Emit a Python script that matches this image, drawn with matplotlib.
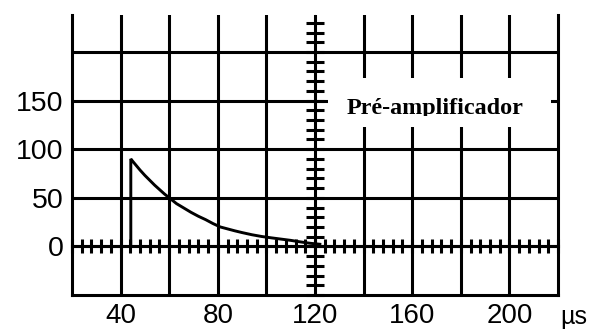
import matplotlib
matplotlib.use("Agg")
import matplotlib.pyplot as plt
from matplotlib.patches import Rectangle
from matplotlib.ticker import MultipleLocator

# pulso do pré-amplificador
time_us = [44.2, 44.2, 45, 46, 47, 48, 50, 52, 54, 56, 58, 60, 63, 66, 69,
           72, 75, 78, 81, 84, 87, 90, 94, 98, 102, 106, 110, 114, 118, 122]
amplitude = [0, 90, 87.5, 84.5, 81.5, 78.5, 73, 68, 63, 58.5, 54, 50, 44,
             39.5, 35, 31, 27.5, 23.5, 20, 18, 16, 14.2, 12, 10.2, 8.8, 7.5,
             6.2, 4.6, 3.2, 2.2]

x_grid = list(range(40, 201, 20))
x_labels = ["40", "", "80", "", "120", "", "160", "", "200"]
y_grid = [0, 50, 100, 150, 200]
y_labels = ["0", "50", "100", "150", ""]

LW = 2.2
SANS = "Liberation Sans"

fig = plt.figure(figsize=(5.96, 3.31), dpi=100)
ax = fig.add_axes([72 / 596, 36 / 331, 486 / 596, 280 / 331])
ax.set_xlim(20, 220)
ax.set_ylim(-50, 238)

for side in ("left", "right", "bottom"):
    ax.spines[side].set_linewidth(LW)
ax.spines["top"].set_visible(False)

ax.set_xticks(x_grid, x_labels, fontname=SANS, fontsize=20)
ax.set_yticks(y_grid, y_labels, fontname=SANS, fontsize=20.5)
ax.tick_params(axis="x", length=0, pad=6)
ax.tick_params(axis="y", length=0, pad=6)
ax.grid(True, color="black", lw=LW)
ax.set_axisbelow(True)

# eixos centrais com marcas menores
secx = ax.secondary_xaxis((0 + 50) / 288)
secx.xaxis.set_major_locator(MultipleLocator(4))
secx.tick_params(direction="inout", length=10, width=2.2,
                 labelbottom=False, labeltop=False)
secx.spines["bottom"].set_linewidth(LW)

secy = ax.secondary_yaxis(0.5)
secy.yaxis.set_major_locator(MultipleLocator(10))
secy.tick_params(direction="inout", length=13, width=2.2,
                 labelleft=False, labelright=False)
secy.spines["left"].set_linewidth(LW)

ax.plot(time_us, amplitude, color="black", lw=2.1, zorder=3,
        solid_joinstyle="miter")

# caixa branca do rótulo
ax.add_patch(Rectangle((125.3, 122.5), 217.1 - 125.3, 172.9 - 122.5,
                       facecolor="white", edgecolor="none", zorder=2))
ax.text(169.6, 136.0, "Pré-amplificador", ha="center", va="baseline",
        fontname="Liberation Serif", fontweight="bold", fontsize=17.4,
        zorder=4)
ax.add_patch(Rectangle((125.3, 122.5), 217.1 - 125.3, 134.2 - 122.5,
                       facecolor="white", edgecolor="none", zorder=5))

ax.text(226.6, -60.5, "µs", ha="center", va="top", fontname=SANS,
        fontsize=18, clip_on=False)

fig.savefig("out.png", dpi=100, facecolor="white")
